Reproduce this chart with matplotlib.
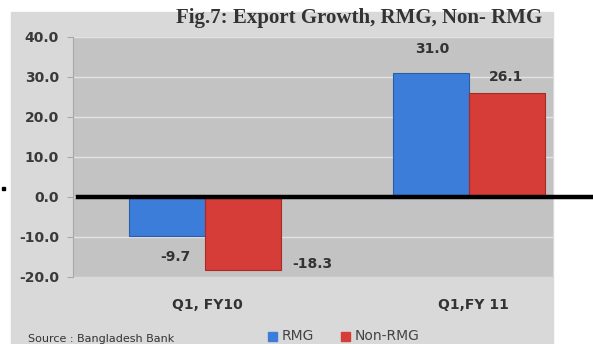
import matplotlib.pyplot as plt
from matplotlib.patches import Rectangle

# data
categories = ['Q1, FY10', 'Q1,FY 11']
rmg = [-9.7, 31.0]
non_rmg = [-18.3, 26.1]
yticks = [-20, -10, 0, 10, 20, 30, 40]

W, H = 593, 344
fig = plt.figure(figsize=(W / 100, H / 100), dpi=100, facecolor='white')

def fx(px):
    return px / W

def fy(py):
    return 1 - py / H

# outer grey chart area
fig.patches.append(Rectangle((fx(11), 0), fx(553) - fx(11), fy(12), transform=fig.transFigure,
                             color='#d9d9d9', zorder=-1))

ax = fig.add_axes([fx(73), fy(277), fx(553) - fx(73), fy(37) - fy(277)])
ax.set_zorder(1)
ax.set_facecolor('#c3c3c3')
ax.set_xlim(-0.5, 1.318)
ax.set_ylim(-20, 40)
ax.set_yticks(yticks)
ax.set_yticklabels(['%.1f' % v for v in yticks], fontsize=10, fontweight='bold', color='#3a3a3a')
ax.set_xticks([])
ax.grid(axis='y', color='#e2e2e2', linewidth=1)
ax.set_axisbelow(True)
for s in ['top', 'right', 'bottom']:
    ax.spines[s].set_visible(False)
ax.spines['left'].set_color('#a8a8a8')
ax.tick_params(axis='y', length=4, color='#a8a8a8', pad=6)

x = [0, 1]
bw = 0.288
ax.bar([i - bw / 2 for i in x], rmg, bw, color='#3b7dd8', edgecolor='#2a5fa8', linewidth=0.8, zorder=3)
ax.bar([i + bw / 2 for i in x], non_rmg, bw, color='#d63d38', edgecolor='#a82a26', linewidth=0.8, zorder=3)

# zero line running past the plot to the image edge
ax.plot([-0.48, 1.5], [0, 0], color='black', linewidth=3.2, clip_on=False, zorder=4)

# value labels
lab = dict(fontsize=10, fontweight='bold', color='#333333', ha='center', va='center')
fig.text(fx(432), fy(49), '%.1f' % rmg[1], **lab)
fig.text(fx(506), fy(77), '%.1f' % non_rmg[1], **lab)
fig.text(fx(175), fy(257), '%.1f' % rmg[0], **lab)
fig.text(fx(312), fy(264), '%.1f' % non_rmg[0], **lab)

# category labels
for c, px in zip(categories, [207, 473]):
    fig.text(fx(px), fy(305), c, fontsize=10, fontweight='bold', color='#333333', ha='center', va='center')

# title
fig.text(fx(359), fy(18), 'Fig.7: Export Growth, RMG, Non- RMG', family='Liberation Serif',
         fontsize=15, fontweight='bold', color='#333333', ha='center', va='center')

# legend
fig.patches.append(Rectangle((fx(268), fy(341)), fx(9), 9 / H, transform=fig.transFigure,
                             color='#3b7dd8', zorder=2))
fig.text(fx(282), fy(336), 'RMG', fontsize=10, color='#444444', va='center')
fig.patches.append(Rectangle((fx(341), fy(341)), fx(9), 9 / H, transform=fig.transFigure,
                             color='#d63d38', zorder=2))
fig.text(fx(355), fy(336), 'Non-RMG', fontsize=10, color='#444444', va='center')

fig.text(fx(28), fy(339), 'Source : Bangladesh Bank', fontsize=8, color='#333333', va='center')

# stray dot at left edge
fig.patches.append(Rectangle((fx(2), fy(190)), fx(3), 3 / H, transform=fig.transFigure,
                             color='black', zorder=2))

fig.savefig('out.png', dpi=100, facecolor='white')
